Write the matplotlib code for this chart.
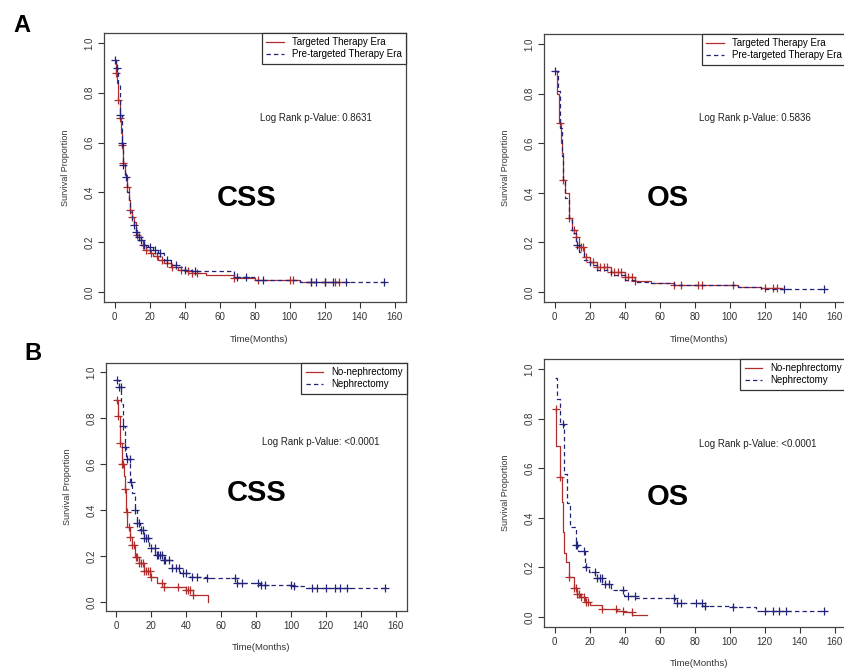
import matplotlib.pyplot as plt
import numpy as np

plt.rcParams['font.family'] = ['Liberation Sans', 'DejaVu Sans']

RED = '#b02d2c'
BLUE = '#23237c'
W, H = 844, 670

# ---------------- data ----------------
# A, CSS
a_css_red_t = [0, 1, 1.5, 2, 3, 3.5, 4, 5, 6, 7, 8, 9, 10, 11, 12, 13, 14, 16, 18, 20, 22, 25, 28, 32, 36, 40, 44, 52, 68, 80, 106, 130]
a_css_red_s = [0.93, 0.88, 0.84, 0.77, 0.70, 0.64, 0.59, 0.52, 0.47, 0.42, 0.37, 0.33, 0.30, 0.28, 0.25, 0.23, 0.21, 0.19, 0.17, 0.155,
               0.145, 0.13, 0.115, 0.10, 0.09, 0.085, 0.075, 0.068, 0.055, 0.05, 0.04, 0.04]
a_css_red_c = [1, 2, 3, 4, 5, 7, 9, 10, 13, 16, 18, 21, 24, 27, 30, 33, 38, 42, 44, 47, 68, 82, 100, 102, 112, 120, 126, 128]
a_css_blue_t = [0, 1, 2, 3, 4, 5, 6, 7, 8, 9, 10, 11, 12, 13, 15, 17, 19, 22, 25, 28, 32, 36, 40, 44, 68, 80, 106, 155]
a_css_blue_s = [0.93, 0.90, 0.83, 0.71, 0.60, 0.51, 0.46, 0.40, 0.36, 0.32, 0.29, 0.27, 0.24, 0.22, 0.21, 0.19, 0.18, 0.17, 0.155,
                0.13, 0.11, 0.10, 0.09, 0.085, 0.06, 0.05, 0.04, 0.04]
a_css_blue_c = [0.5, 1.5, 3, 4, 5, 6.5, 11, 12, 14, 15, 17, 20, 23, 26, 30, 35, 40, 46, 70, 75, 85, 112, 115, 120, 125, 132, 154]

# A, OS
a_os_red_t = [0, 1.5, 2.5, 3.5, 4, 5, 6, 8, 10, 12, 14, 17, 20, 24, 32, 40, 46, 55, 68, 105, 118, 130]
a_os_red_s = [0.89, 0.80, 0.68, 0.60, 0.56, 0.45, 0.40, 0.30, 0.25, 0.22, 0.18, 0.14, 0.12, 0.10, 0.08, 0.06, 0.045, 0.035, 0.03,
              0.02, 0.015, 0.015]
a_os_red_c = [3.3, 5, 8, 11, 12, 14, 15, 16, 18, 20, 22, 24, 26, 28, 30, 32, 34, 36, 38, 40, 42, 44, 46, 68, 72, 82, 84, 102,
              120, 125, 127]
a_os_blue_t = [0, 2, 3, 4, 5, 6, 8, 10, 12, 14, 17, 20, 24, 32, 40, 46, 55, 68, 105, 118, 155]
a_os_blue_s = [0.89, 0.81, 0.66, 0.55, 0.45, 0.38, 0.29, 0.24, 0.19, 0.16, 0.13, 0.11, 0.09, 0.07, 0.05, 0.04, 0.035, 0.03,
               0.02, 0.012, 0.012]
a_os_blue_c = [0.5, 13, 131, 154]

# B, CSS
b_css_red_t = [0, 1, 2, 3, 4.5, 5, 5.5, 6.2, 7.6, 8.9, 10.9, 12.8, 15.6, 19.4, 23.2, 27, 40, 43.8, 52.5]
b_css_red_s = [0.88, 0.81, 0.69, 0.60, 0.55, 0.49, 0.39, 0.325, 0.284, 0.248, 0.197, 0.168, 0.136, 0.107, 0.081, 0.064,
               0.052, 0.03, 0.0]
b_css_red_c = [0.5, 1, 2, 3, 4, 5, 6, 7, 8, 9, 10, 11, 12, 13, 14, 15, 16, 17, 18, 19, 20, 26, 27, 35, 40, 41, 42, 44]
b_css_blue_t = [0, 1.4, 2.7, 3.8, 4.8, 5.7, 7.6, 8.7, 10.5, 11.9, 13.7, 15.6, 18.5, 22.3, 27, 31.8, 36.6, 42.3, 51.8, 69,
                82, 101, 108, 155]
b_css_blue_s = [0.965, 0.935, 0.86, 0.765, 0.675, 0.62, 0.523, 0.472, 0.40, 0.342, 0.313, 0.277, 0.233, 0.204, 0.183, 0.146,
                0.125, 0.11, 0.103, 0.081, 0.074, 0.07, 0.062, 0.062]
b_css_blue_c = [0.5, 1.5, 2.5, 4, 5, 6, 7.5, 8.5, 10.5, 12, 13, 14, 15, 16, 17, 18, 20, 22, 23, 24, 25, 26, 27, 28, 30, 32,
                34, 36, 38, 40, 43, 46, 52, 68, 69, 72, 81, 83, 85, 100, 102, 112, 115, 120, 125, 128, 132, 154]

# B, OS
b_os_red_t = [0, 1, 3, 4, 4.8, 5.5, 6.5, 8.4, 10.9, 12.8, 14.7, 17.5, 20.4, 27, 35.6, 39.4, 44.2, 52.8]
b_os_red_s = [0.84, 0.69, 0.566, 0.465, 0.344, 0.257, 0.22, 0.163, 0.116, 0.095, 0.082, 0.062, 0.048, 0.031, 0.024, 0.02,
              0.008, 0.007]
b_os_red_c = [0.6, 3.4, 8.4, 11, 12, 13, 14, 15, 17, 18, 19, 27, 35, 39, 44]
b_os_blue_t = [0, 1.2, 3.4, 5.3, 7.2, 9.1, 12, 13.3, 17.7, 19.6, 23.4, 27.2, 32, 39.6, 46.2, 69, 85, 102, 115, 155]
b_os_blue_s = [0.962, 0.88, 0.78, 0.575, 0.458, 0.364, 0.29, 0.267, 0.203, 0.183, 0.156, 0.133, 0.109, 0.086, 0.075, 0.055,
               0.044, 0.042, 0.024, 0.024]
b_os_blue_c = [5, 12, 13, 17, 18, 23, 24, 26, 27, 29, 31, 39, 42, 46, 68, 70, 72, 81, 84, 86, 102, 120, 125, 128, 132, 154]

x_ticks = [0, 20, 40, 60, 80, 100, 120, 140, 160]
y_ticks = [0.0, 0.2, 0.4, 0.6, 0.8, 1.0]
era_labels = ['Targeted Therapy Era', 'Pre-targeted Therapy Era']
neph_labels = ['No-nephrectomy', 'Nephrectomy']

######################################################################

fig = plt.figure(figsize=(W / 100, H / 100), dpi=100)


def fx(px):
    return px / W


def fy(py):
    return 1 - py / H


def step_at(t, s, c):
    # survival value of the step curve at the censoring times
    idx = np.searchsorted(t, c, side='right') - 1
    return np.asarray(s)[idx]


def panel(box, curves, labels, ptext, ptext_xy, big, big_xy, ylab_x, xlab_y):
    left, top, right, bottom = box
    ax = fig.add_axes([fx(left), fy(bottom), fx(right) - fx(left), fy(top) - fy(bottom)])
    styles = [(RED, '-'), (BLUE, (0, (3.5, 2.5)))]
    for (t, s, c), (col, ls), lab in zip(curves, styles, labels):
        ax.step(t, s, where='post', color=col, ls=ls, lw=0.9, label=lab)
        ax.plot(c, step_at(t, s, c), '+', color=col, ms=6, mew=0.9, ls='none')
    ax.set_xlim(-6, 166.5)
    ax.set_ylim(-0.04, 1.04)
    ax.set_xticks(x_ticks)
    ax.set_yticks(y_ticks)
    ax.set_yticklabels(['%.1f' % v for v in y_ticks], rotation=90, va='center')
    ax.tick_params(length=4, width=0.8, pad=3, labelsize=7, colors='#333333')
    for sp in ax.spines.values():
        sp.set_color('#444444')
        sp.set_linewidth(0.9)
    ax.set_ylabel('Survival Proportion', fontsize=6.5, color='#333333', va='center')
    ax.yaxis.set_label_coords(fx(ylab_x), fy((top + bottom) / 2), transform=fig.transFigure)
    ax.set_xlabel('Time(Months)', fontsize=6.8, color='#333333', va='center')
    ax.xaxis.set_label_coords(fx((left + min(right, 846)) / 2 + 4), fy(xlab_y), transform=fig.transFigure)
    leg = ax.legend(loc='upper right', fontsize=7, fancybox=False, edgecolor='#333333', framealpha=1,
                    borderaxespad=0, handlelength=1.8, handletextpad=0.8, labelspacing=0.2, borderpad=0.45)
    leg.get_frame().set_linewidth(0.9)
    fig.text(fx(ptext_xy[0]), fy(ptext_xy[1]), ptext, fontsize=7, color='#222222', va='center')
    fig.text(fx(big_xy[0]), fy(big_xy[1]), big, fontsize=21, fontweight='bold', ha='center', va='center')
    return ax


panel((104, 33, 406, 302),
      [(a_css_red_t, a_css_red_s, a_css_red_c), (a_css_blue_t, a_css_blue_s, a_css_blue_c)],
      era_labels, 'Log Rank p-Value: 0.8631', (260, 118), 'CSS', (247, 198), 65, 340)
panel((544, 34, 846, 302),
      [(a_os_red_t, a_os_red_s, a_os_red_c), (a_os_blue_t, a_os_blue_s, a_os_blue_c)],
      era_labels, 'Log Rank p-Value: 0.5836', (699, 118), 'OS', (668, 198), 505, 340)
panel((106, 363, 407, 611),
      [(b_css_red_t, b_css_red_s, b_css_red_c), (b_css_blue_t, b_css_blue_s, b_css_blue_c)],
      neph_labels, 'Log Rank p-Value: <0.0001', (262, 442), 'CSS', (257, 493), 67, 647)
panel((544, 359, 846, 627),
      [(b_os_red_t, b_os_red_s, b_os_red_c), (b_os_blue_t, b_os_blue_s, b_os_blue_c)],
      neph_labels, 'Log Rank p-Value: <0.0001', (699, 444), 'OS', (668, 497), 505, 664)

fig.text(fx(22), fy(25), 'A', fontsize=17, fontweight='bold', ha='center', va='center')
fig.text(fx(33), fy(353), 'B', fontsize=17, fontweight='bold', ha='center', va='center')

fig.savefig('out.png', dpi=100)
